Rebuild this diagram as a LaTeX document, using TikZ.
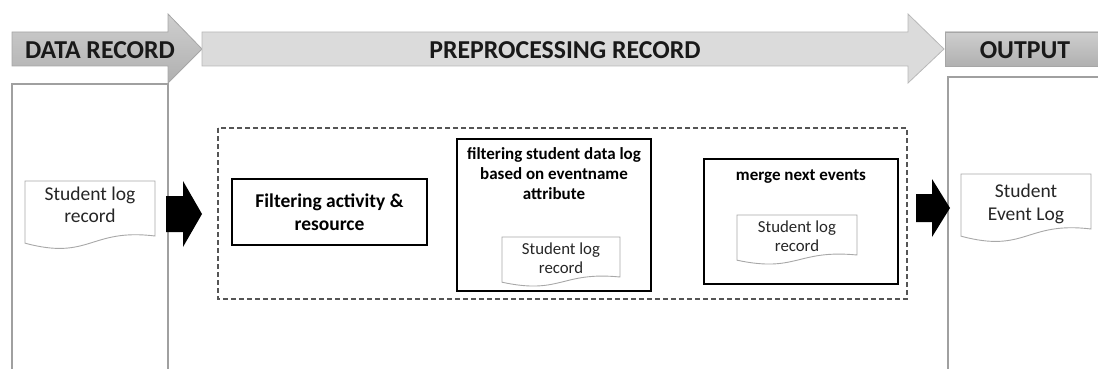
\documentclass[tikz,border=0pt]{standalone}
\usepackage{fontspec}
\setmainfont{Carlito}
\usetikzlibrary{calc}
\definecolor{hdark}{HTML}{C2C2C2}
\definecolor{hdarkb}{HTML}{B0B0B0}
\definecolor{hlight}{HTML}{DBDBDB}
\definecolor{hline}{HTML}{A6A6A6}
\definecolor{colgray}{HTML}{A0A0A0}
\definecolor{docgray}{HTML}{A8A8A8}
\definecolor{dashgray}{HTML}{555555}
\newcommand\docshape[4]{%
  \pgfmathsetmacro\dw{#3-#1}\pgfmathsetmacro\dh{#4-#2}%
  \draw[docline] (#1,#2) -- (#3,#2) -- (#3,#4)
    .. controls ({#3-0.5*\dw},{#4-0.145*\dh}) and ({#3-0.5*\dw},{#4+0.45*\dh}) .. (#1,{#4+0.13*\dh}) -- cycle;}
\begin{document}
\begin{tikzpicture}[x=1pt,y=-1pt,
  colline/.style={draw=colgray, line width=1.2pt},
  docline/.style={draw=docgray, line width=0.9pt, fill=white},
  headtext/.style={font=\bfseries\fontsize{25.8}{29}\selectfont, text=black!90, inner sep=0pt},
  doctext/.style={font=\fontsize{19.5}{22.5}\selectfont, align=center, inner sep=0pt, text=black!85},
  smalldoctext/.style={font=\fontsize{16.8}{19.5}\selectfont, align=center, inner sep=0pt, text=black!85},
  procbox/.style={draw=black, line width=1.8pt, align=center, inner sep=0pt},
  boxtitle/.style={font=\bfseries\fontsize{17}{20}\selectfont, align=center, inner sep=0pt},
  blockarrow/.style={fill=black}]
\useasboundingbox (0,0) rectangle (1098,369);

% column frames
\draw[colline] (12,369) -- (12,84) -- (168,84) -- (168,369);
\draw[colline] (1098,77) -- (948,77) -- (948,369);

% header arrows
\path[draw=hline, line width=0.8pt, top color=hdark!80, bottom color=hdarkb]
  (12,32) -- (168,32) -- (168,14) -- (202,49) -- (168,83) -- (168,66) -- (12,66) -- cycle;
\node[headtext] (dr) at (100,50) {DATA RECORD};
\path[draw=hline!80, line width=0.8pt, fill=hlight]
  (202,32) -- (908,32) -- (908,14) -- (944,49) -- (908,83) -- (908,66) -- (202,66) -- cycle;
\node[headtext] (pr) at (565,50) {PREPROCESSING RECORD};
\path[draw=hline, line width=0.8pt, top color=hdark!80, bottom color=hdarkb]
  (945,32) rectangle (1098,66);
\node[headtext] (out) at (1025,50) {OUTPUT};

% input document
\docshape{25}{181}{155}{236}
\node[doctext] (in) at (90,205) {Student log\\record};

% block arrow 1
\fill[blockarrow] (166,196) -- (183,196) -- (183,181) -- (202,214) -- (183,247) -- (183,232) -- (166,232) -- cycle;

% dashed container
\draw[draw=dashgray, line width=1.3pt, dash pattern=on 5pt off 3pt] (218,128) rectangle (907,299);

% box 1
\node[procbox, minimum width=195, minimum height=66, font=\bfseries\fontsize{19.5}{22.5}\selectfont] (b1) at (329.5,212) {Filtering activity \&\\resource};

% box 2
\node[procbox, minimum width=194, minimum height=152] (b2) at (554,215) {};
\node[boxtitle, anchor=north] (t2) at (554,147) {filtering student data log\\based on eventname\\attribute};
\docshape{502}{237}{620}{277}
\node[smalldoctext] (d2) at (561,258) {Student log\\record};

% box 3
\node[procbox, minimum width=194, minimum height=125] (b3) at (801,221.5) {};
\node[boxtitle] (t3) at (801,177) {merge next events};
\docshape{737}{215}{857}{255}
\node[smalldoctext] (d3) at (797,236) {Student log\\record};

% block arrow 2
\fill[blockarrow] (916,194) -- (932,194) -- (932,179) -- (950,208) -- (932,237) -- (932,222) -- (916,222) -- cycle;

% output document
\docshape{961}{174}{1091}{229}
\node[doctext] (od) at (1026,204) {Student\\Event Log};
\end{tikzpicture}
\end{document}
